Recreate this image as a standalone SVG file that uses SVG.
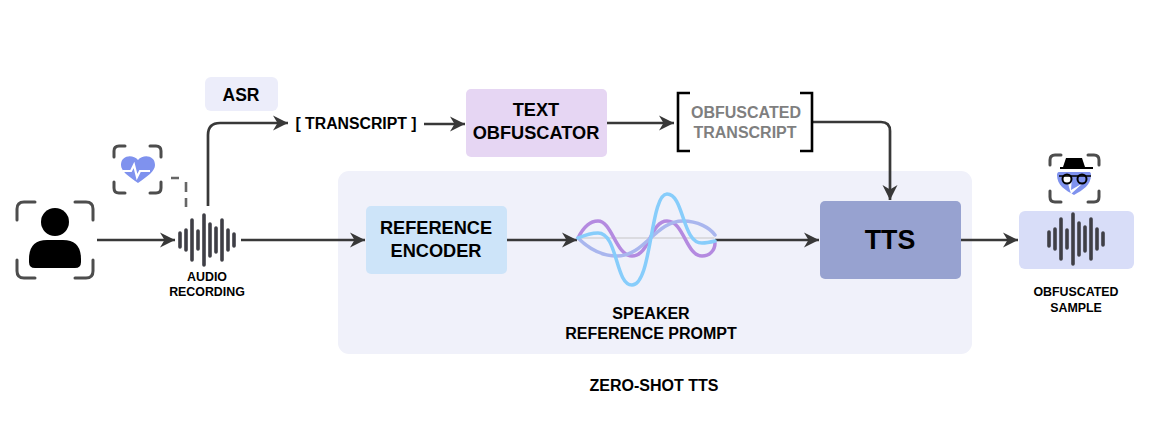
<svg xmlns="http://www.w3.org/2000/svg" width="1167" height="428" viewBox="0 0 1167 428">
<style>
text{font-family:"Liberation Sans",Arial,sans-serif;font-weight:700;fill:#000;text-anchor:middle}
.f18{font-size:18.2px}.f12{font-size:12.4px}.f16{font-size:16px}
.c{fill:none;stroke:#383838;stroke-width:2.7;stroke-linejoin:round}
.br{fill:none;stroke:#4d4d4d;stroke-width:3;stroke-linecap:round}
.w{stroke:#3f3f46;stroke-width:3.6;stroke-linecap:round;fill:none}
</style>
<defs>
<marker id="a" markerUnits="userSpaceOnUse" markerWidth="18" markerHeight="18" refX="16" refY="9" orient="auto"><path d="M1 1.500 L16 9 L1 16.500 L5.500 9 Z" fill="#383838"/></marker>
<path id="wave" d="M0 -7V7M6 -10V10M12 -20V20M18 -9V9M24 -25V25M30 -16V16M36 -12V12M42 -20V20M48 -10V10M54 -6V6" class="w"/>
</defs>
<rect width="1167" height="428" fill="#fff"/>
<g id="zero-shot"><rect x="338" y="171" width="634" height="183" rx="11" fill="#f0f1fa"/><text x="654" y="391" class="f16">ZERO-SHOT TTS</text></g>
<g id="connectors">
<path class="c" d="M97 240H175" marker-end="url(#a)"/>
<path class="c" d="M208 206V135Q208 123 220 123H288" marker-end="url(#a)"/>
<path class="c" d="M241 240H365" marker-end="url(#a)"/>
<path class="c" d="M424 124H465" marker-end="url(#a)"/>
<path class="c" d="M607 123H674" marker-end="url(#a)"/>
<path class="c" d="M813 122H881Q890 122 890 131V200" marker-end="url(#a)"/>
<path class="c" d="M507 240H577" marker-end="url(#a)"/>
<path class="c" d="M715 240H819" marker-end="url(#a)"/>
<path class="c" d="M961 240H1018" marker-end="url(#a)"/>
<path d="M171 178H179M186 182V192M186 198V207" fill="none" stroke="#666" stroke-width="2.6"/>
</g>
<g id="speaker">
<path class="br" d="M17 220V209Q17 202 24 202H35M93 220V209Q93 202 86 202H75M17 260V271Q17 278 24 278H35M93 260V271Q93 278 86 278H75"/>
<circle cx="55" cy="222" r="14" fill="#000"/>
<path d="M29 259Q29 240 47 240H63Q81 240 81 259V262Q81 268 75 268H35Q29 268 29 262Z" fill="#000"/>
</g>
<g id="heart">
<path class="br" d="M114 157V151Q114 146 119 146H125M161 157V151Q161 146 156 146H150M114 182V188Q114 193 119 193H125M161 182V188Q161 193 156 193H150"/>
<path d="M138 183C128 176 121 171 121 165C121 155 133 154 138 160C143 154 155 155 155 165C155 171 148 176 138 183Z" fill="#7f92ee"/>
<path d="M123 171H131L134 165L137 177L140 171H150" fill="none" stroke="#fff" stroke-width="2.2"/>
</g>
<g id="audio-recording"><use href="#wave" x="180" y="240"/><text x="207" y="281" class="f12">AUDIO</text><text x="207" y="296" class="f12">RECORDING</text></g>
<g id="asr"><rect x="205" y="77" width="73" height="34" rx="6" fill="#ecedfa"/><text x="241" y="101" style="font-size:17.5px">ASR</text></g>
<g id="transcript"><text x="356" y="129" style="font-size:15.8px">[ TRANSCRIPT ]</text></g>
<g id="text-obfuscator"><rect x="466" y="89" width="141" height="68" rx="5" fill="#e6d6f3"/><text x="536" y="116" class="f18">TEXT</text><text x="536" y="139" class="f18">OBFUSCATOR</text></g>
<g id="obfuscated-transcript">
<path d="M690 93H678V151H690M800 93H812V151H800" fill="none" stroke="#000" stroke-width="2.6"/>
<text x="746" y="118" class="f16" style="fill:#7f7f7f">OBFUSCATED</text><text x="745" y="138" class="f16" style="fill:#7f7f7f">TRANSCRIPT</text>
</g>
<g id="reference-encoder"><rect x="366" y="206" width="141" height="68" rx="5" fill="#cde4f9"/><text x="436" y="234" class="f18">REFERENCE</text><text x="436" y="257" class="f18">ENCODER</text></g>
<g id="speaker-prompt" fill="none" stroke-width="3.5" stroke-linecap="round">
<path d="M578 238H714" stroke="#d4d4d8" stroke-width="1.5"/>
<path d="M578 238C584 226 590 221 598 221C612 221 616 256 632 256C650 256 650 221 667 221C684 221 686 256 702 256C710 256 715 250 715 243" stroke="#b48ae0"/>
<path d="M578 238C590 250 602 256 617 256C645 256 655 221 683 221C698 221 710 228 715 235" stroke="#a9b6ee"/>
<path d="M578 238C585 235 590 233 598 233C618 233 615 285 632 285C652 285 650 194 667 194C684 194 682 243 702 243C707 243 711 242 715 241" stroke="#87cdfb"/>
<text x="651" y="319" class="f16" stroke="none" fill="#000">SPEAKER</text><text x="651" y="339" class="f16" stroke="none" fill="#000">REFERENCE PROMPT</text>
</g>
<g id="tts"><rect x="820" y="201" width="141" height="78" rx="5" fill="#97a2d0"/><text x="890" y="249" style="font-size:26.8px">TTS</text></g>
<g id="spy">
<path class="br" d="M1050 165V160Q1050 155 1055 155H1061M1099 165V160Q1099 155 1094 155H1088M1050 191V197Q1050 202 1055 202H1061M1099 191V197Q1099 202 1094 202H1088"/>
<path d="M1074 195C1065 190 1057 185 1057 175C1057 171 1060 172 1062 172H1086C1089 172 1091 171 1091 175C1091 185 1083 190 1074 195Z" fill="#7f92ee"/>
<path d="M1067 180L1072 176L1071 190L1083 183L1071 194Z" fill="#fff"/>
<path d="M1060 169H1093V167H1085L1082 158H1066L1063 167H1060Z" fill="#000"/>
<circle cx="1067" cy="179" r="4.5" fill="#fff" stroke="#000" stroke-width="2"/><circle cx="1082" cy="179" r="4.5" fill="#7f92ee" stroke="#000" stroke-width="2"/><path d="M1059 176H1091" stroke="#000" stroke-width="1.5"/>
</g>
<g id="obfuscated-sample"><rect x="1019" y="211" width="115" height="58" rx="6" fill="#d8ddf8"/><use href="#wave" x="1049" y="239"/><text x="1076" y="296" class="f12">OBFUSCATED</text><text x="1076" y="312" class="f12">SAMPLE</text></g>
</svg>
